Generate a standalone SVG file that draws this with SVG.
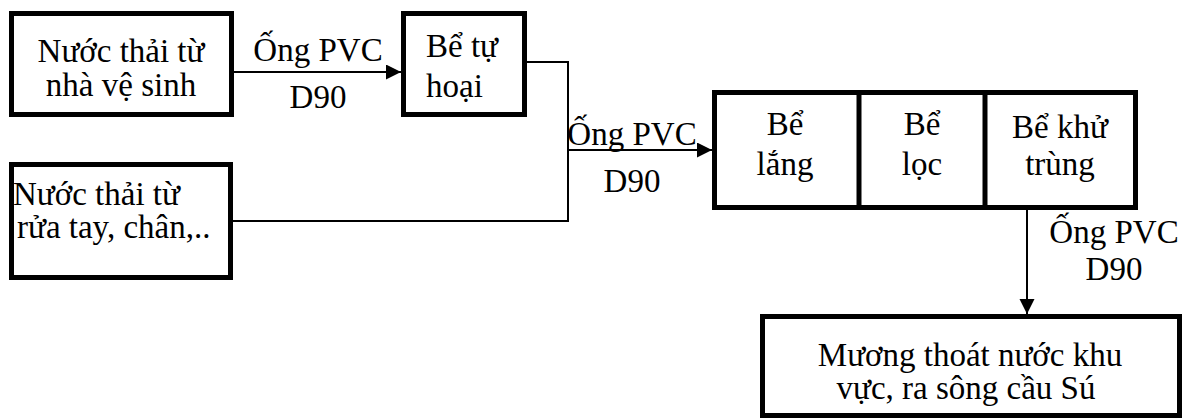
<svg xmlns="http://www.w3.org/2000/svg" width="1184" height="420" viewBox="0 0 1184 420">
<style>
.box{fill:#fff;stroke:#000;stroke-width:5}
.div{stroke:#000;stroke-width:5}
.ln{fill:none;stroke:#000;stroke-width:2}
text{font-family:'Liberation Serif',serif;font-size:33px;fill:#000}
.c{text-anchor:middle}
</style>
<defs>
<marker id="ah" markerWidth="16" markerHeight="16" refX="15" refY="7.5" orient="auto" markerUnits="userSpaceOnUse">
<path d="M0,0 L15,7.5 L0,15 Z" fill="#000"/>
</marker>
</defs>
<rect width="1184" height="420" fill="#fff"/>
<g id="connectors">
<line class="ln" x1="234" y1="72" x2="401" y2="72" marker-end="url(#ah)"/>
<polyline class="ln" points="527,62 568,62 568,221 233,221"/>
<line class="ln" x1="568" y1="150" x2="712" y2="150" marker-end="url(#ah)"/>
<line class="ln" x1="1027" y1="210" x2="1027" y2="314" marker-end="url(#ah)"/>
<text class="c" x="318" y="61">Ống PVC</text>
<text class="c" x="318" y="108">D90</text>
<text class="c" x="632" y="145">Ống PVC</text>
<text class="c" x="632" y="192">D90</text>
<text class="c" x="1114" y="243">Ống PVC</text>
<text class="c" x="1114" y="280">D90</text>
</g>
<g id="n1">
<rect class="box" x="11.5" y="13.5" width="220" height="101"/>
<text class="c" x="121" y="62">Nước thải từ</text>
<text class="c" x="121" y="96">nhà vệ sinh</text>
</g>
<g id="n2">
<rect class="box" x="403.5" y="13.5" width="121" height="101"/>
<text x="426" y="57">Bể tự</text>
<text x="426" y="97">hoại</text>
</g>
<g id="n3">
<rect class="box" x="11.5" y="164.5" width="219" height="113"/>
<text x="13" y="205">Nước thải từ</text>
<text x="17" y="238">rửa tay, chân,..</text>
</g>
<g id="n4">
<rect class="box" x="714.5" y="92.5" width="421" height="115"/>
<line class="div" x1="859" y1="92.5" x2="859" y2="207.5"/>
<line class="div" x1="985" y1="92.5" x2="985" y2="207.5"/>
<text class="c" x="785" y="135">Bể</text>
<text class="c" x="785" y="175">lắng</text>
<text class="c" x="922" y="135">Bể</text>
<text class="c" x="922" y="175">lọc</text>
<text class="c" x="1060" y="138">Bể khử</text>
<text class="c" x="1060" y="175">trùng</text>
</g>
<g id="n5">
<rect class="box" x="762.5" y="316.5" width="417" height="99"/>
<text class="c" x="970" y="366">Mương thoát nước khu</text>
<text class="c" x="966" y="399">vực, ra sông cầu Sú</text>
</g>
</svg>
